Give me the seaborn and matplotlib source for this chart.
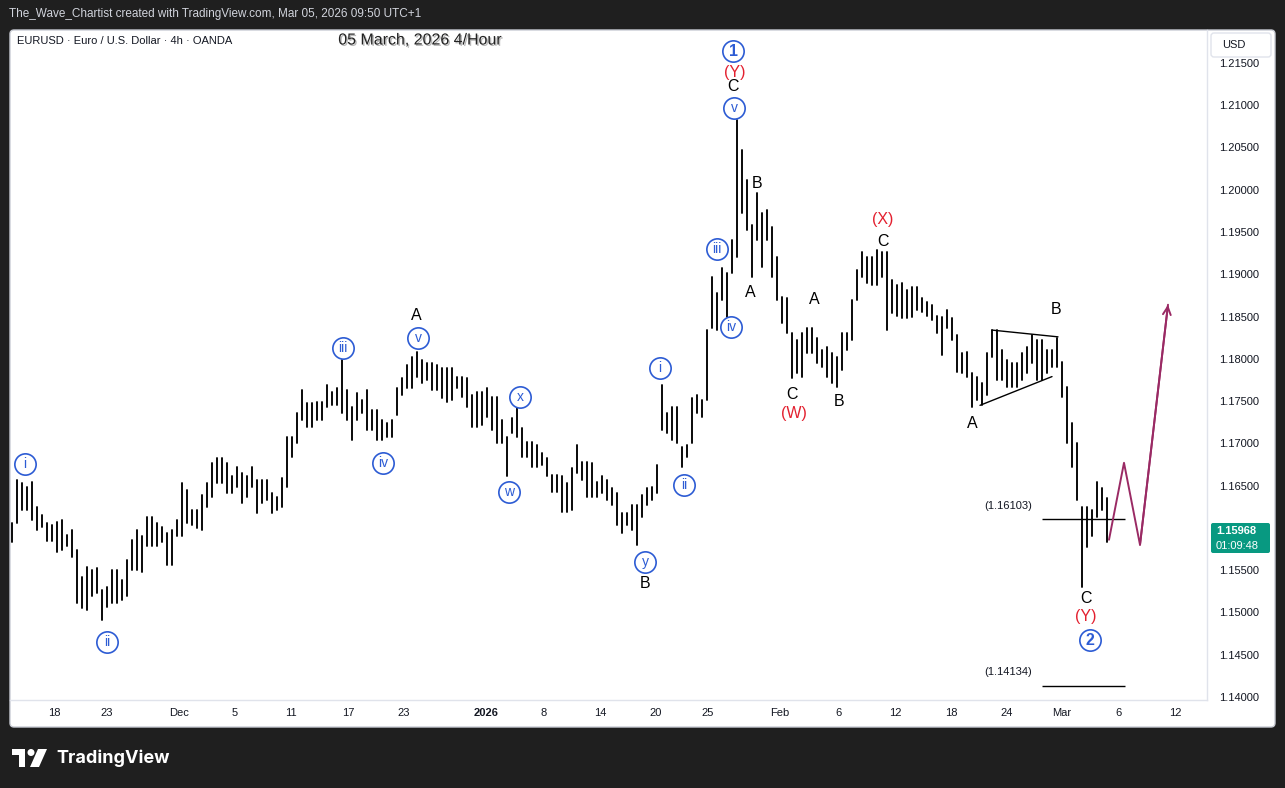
import matplotlib
matplotlib.use("Agg")
import matplotlib.pyplot as plt
import matplotlib.patheffects as pe
from matplotlib.patches import FancyBboxPatch, Rectangle, Circle, Polygon
import numpy as np
import pandas as pd
import seaborn as sns

# EURUSD 4h bars (high / low), one entry every ~8 hours
HIGH = [
    1.1606, 1.1657, 1.1653, 1.1648, 1.1654, 1.1625, 1.1615, 1.1606, 1.1603, 1.1607,
    1.1609, 1.1592, 1.1598, 1.1574, 1.1542, 1.1554, 1.1550, 1.1553, 1.1527, 1.1530,
    1.1550, 1.1550, 1.1538, 1.1562, 1.1586, 1.1598, 1.1590, 1.1613, 1.1613, 1.1606,
    1.1601, 1.1594, 1.1598, 1.1609, 1.1653, 1.1645, 1.1621, 1.1621, 1.1639, 1.1653,
    1.1677, 1.1683, 1.1683, 1.1677, 1.1661, 1.1672, 1.1665, 1.1661, 1.1672, 1.1657,
    1.1657, 1.1657, 1.1641, 1.1636, 1.1659, 1.1707, 1.1707, 1.1736, 1.1763, 1.1748,
    1.1748, 1.1749, 1.1749, 1.1769, 1.1761, 1.1766, 1.1799, 1.1763, 1.1743, 1.1760,
    1.1751, 1.1763, 1.1740, 1.1740, 1.1728, 1.1724, 1.1728, 1.1766, 1.1777, 1.1793,
    1.1802, 1.1808, 1.1799, 1.1795, 1.1795, 1.1793, 1.1789, 1.1789, 1.1789, 1.1779,
    1.1779, 1.1777, 1.1757, 1.1761, 1.1761, 1.1766, 1.1755, 1.1755, 1.1728, 1.1707,
    1.1730, 1.1743, 1.1718, 1.1702, 1.1702, 1.1698, 1.1689, 1.1683, 1.1663, 1.1663,
    1.1661, 1.1653, 1.1671, 1.1698, 1.1678, 1.1678, 1.1677, 1.1654, 1.1661, 1.1657,
    1.1647, 1.1641, 1.1618, 1.1618, 1.1627, 1.1627, 1.1639, 1.1647, 1.1648, 1.1674,
    1.1769, 1.1736, 1.1743, 1.1743, 1.1696, 1.1698, 1.1754, 1.1757, 1.1751, 1.1834,
    1.1897, 1.1878, 1.1907, 1.1902, 1.1941, 1.2083, 1.2047, 1.2012, 1.1958, 1.1996,
    1.1973, 1.1976, 1.1956, 1.1920, 1.1873, 1.1872, 1.1830, 1.1822, 1.1830, 1.1837,
    1.1837, 1.1825, 1.1810, 1.1814, 1.1807, 1.1802, 1.1830, 1.1830, 1.1870, 1.1905,
    1.1926, 1.1920, 1.1920, 1.1929, 1.1926, 1.1926, 1.1893, 1.1887, 1.1890, 1.1881,
    1.1885, 1.1885, 1.1872, 1.1867, 1.1864, 1.1851, 1.1849, 1.1858, 1.1848, 1.1828,
    1.1807, 1.1808, 1.1783, 1.1779, 1.1771, 1.1807, 1.1834, 1.1834, 1.1810, 1.1799,
    1.1795, 1.1795, 1.1807, 1.1814, 1.1828, 1.1822, 1.1822, 1.1810, 1.1810, 1.1825,
    1.1796, 1.1767, 1.1724, 1.1700, 1.1625, 1.1625, 1.1621, 1.1654, 1.1647, 1.1635,
]
LOW = [
    1.1583, 1.1606, 1.1621, 1.1621, 1.1609, 1.1598, 1.1601, 1.1584, 1.1584, 1.1572,
    1.1574, 1.1578, 1.1566, 1.1511, 1.1505, 1.1503, 1.1519, 1.1523, 1.1491, 1.1506,
    1.1511, 1.1511, 1.1515, 1.1519, 1.1550, 1.1550, 1.1548, 1.1578, 1.1578, 1.1578,
    1.1583, 1.1556, 1.1556, 1.1590, 1.1590, 1.1606, 1.1603, 1.1600, 1.1598, 1.1625,
    1.1636, 1.1653, 1.1653, 1.1641, 1.1641, 1.1648, 1.1629, 1.1636, 1.1648, 1.1618,
    1.1629, 1.1633, 1.1618, 1.1621, 1.1625, 1.1648, 1.1684, 1.1700, 1.1728, 1.1719,
    1.1719, 1.1728, 1.1728, 1.1743, 1.1745, 1.1745, 1.1736, 1.1728, 1.1704, 1.1728,
    1.1736, 1.1716, 1.1716, 1.1704, 1.1704, 1.1707, 1.1707, 1.1733, 1.1757, 1.1766,
    1.1766, 1.1779, 1.1771, 1.1775, 1.1763, 1.1763, 1.1754, 1.1749, 1.1751, 1.1766,
    1.1755, 1.1743, 1.1719, 1.1719, 1.1722, 1.1731, 1.1716, 1.1700, 1.1700, 1.1661,
    1.1712, 1.1707, 1.1684, 1.1684, 1.1672, 1.1672, 1.1674, 1.1661, 1.1642, 1.1642,
    1.1619, 1.1619, 1.1621, 1.1665, 1.1657, 1.1636, 1.1636, 1.1636, 1.1641, 1.1633,
    1.1627, 1.1603, 1.1594, 1.1603, 1.1598, 1.1580, 1.1613, 1.1627, 1.1633, 1.1641,
    1.1716, 1.1712, 1.1704, 1.1700, 1.1672, 1.1684, 1.1700, 1.1736, 1.1731, 1.1751,
    1.1837, 1.1834, 1.1870, 1.1849, 1.1902, 1.1920, 1.1973, 1.1952, 1.1897, 1.1941,
    1.1909, 1.1941, 1.1897, 1.1870, 1.1842, 1.1830, 1.1777, 1.1783, 1.1779, 1.1807,
    1.1807, 1.1795, 1.1790, 1.1779, 1.1771, 1.1767, 1.1787, 1.1810, 1.1822, 1.1870,
    1.1897, 1.1890, 1.1887, 1.1887, 1.1897, 1.1834, 1.1854, 1.1851, 1.1848, 1.1848,
    1.1849, 1.1858, 1.1855, 1.1851, 1.1846, 1.1830, 1.1805, 1.1837, 1.1822, 1.1785,
    1.1783, 1.1779, 1.1743, 1.1751, 1.1745, 1.1757, 1.1802, 1.1775, 1.1775, 1.1767,
    1.1767, 1.1767, 1.1775, 1.1783, 1.1795, 1.1775, 1.1775, 1.1783, 1.1790, 1.1790,
    1.1755, 1.1700, 1.1672, 1.1633, 1.1530, 1.1577, 1.1590, 1.1613, 1.1621, 1.1583,
]
LAST_PRICE = "1.15968"
COUNTDOWN = "01:09:48"

PRICE_TICKS = [1.140, 1.145, 1.150, 1.155, 1.160, 1.165, 1.170, 1.175,
               1.180, 1.185, 1.190, 1.195, 1.200, 1.205, 1.210, 1.215]
HIDDEN_TICK = 1.160  # sits under the last-price tag
DATE_LABELS = ["18", "23", "Dec", "5", "11", "17", "23", "2026", "8", "14",
               "20", "25", "Feb", "6", "12", "18", "24", "Mar", "6", "12"]
DATE_POS = [8.4, 19.0, 33.4, 44.6, 55.8, 67.2, 78.4, 94.8, 106.4, 117.6,
            128.8, 139.2, 153.6, 165.2, 176.6, 187.8, 199.0, 210.0, 221.4, 232.6]

# Elliott wave labels
CIRCLE_LABELS = ["i", "ii", "iii", "iv", "v", "w", "x", "y",
                 "i", "ii", "iii", "iv", "v", "1", "2"]
CIRCLE_X = [2.6, 19.0, 66.2, 74.2, 81.2, 99.4, 101.6, 126.6,
            129.6, 134.4, 141.0, 143.8, 144.4, 144.2, 215.6]
CIRCLE_Y = [1.1675, 1.1465, 1.1813, 1.1677, 1.1825, 1.1642, 1.1755, 1.1560,
            1.1789, 1.1651, 1.1930, 1.1838, 1.2097, 1.2164, 1.1467]
ABC_LABELS = ["A", "B", "C", "B", "A", "C", "A", "B", "C", "A", "B", "C"]
ABC_X = [80.8, 126.6, 144.2, 149.0, 147.6, 156.0, 160.4, 165.4, 174.2, 192.0, 208.8, 214.8]
ABC_Y = [1.1851, 1.1534, 1.2122, 1.2008, 1.1878, 1.1758, 1.1870, 1.1750,
         1.1939, 1.1724, 1.1858, 1.1517]
RED_LABELS = ["(Y)", "(W)", "(X)", "(Y)"]
RED_X = [144.6, 156.4, 174.2, 214.8]
RED_Y = [1.2139, 1.1735, 1.1965, 1.1495]

FIB_LEVELS = [1.16103, 1.14134]
FIB_X = [206.0, 222.6]

TRI_UPPER_X = [196.0, 209.2]
TRI_UPPER_Y = [1.1834, 1.1826]
TRI_LOWER_X = [193.6, 208.0]
TRI_LOWER_Y = [1.1745, 1.1779]

PROJ_X = [219.4, 222.4, 225.6, 231.2]
PROJ_Y = [1.1586, 1.1677, 1.1580, 1.1864]

W, H = 1285, 788
BG = "#1f1f1f"
BLUE = "#2d5cd4"
RED = "#e3202f"
PROJ_COLOR = "#9a2a64"
TEXT = "#131722"
LINE = "#e0e3eb"

sns.set_style("white")
plt.rcParams["font.family"] = ["Liberation Sans", "DejaVu Sans"]

fig = plt.figure(figsize=(W / 100, H / 100), dpi=100, facecolor=BG)

# panel background, pixel coordinates
back = fig.add_axes([0, 0, 1, 1], zorder=0)
back.set_xlim(0, W)
back.set_ylim(H, 0)
back.axis("off")
back.add_patch(FancyBboxPatch((10, 30), 1265, 697, boxstyle="round,pad=0,rounding_size=4",
                              fc="white", ec="#c9ccd4", lw=1))

ax = fig.add_axes([10 / W, 1 - 700 / H, 1197 / W, 670 / H], zorder=1)
ax.set_facecolor("none")

# bars
idx = np.arange(len(HIGH))
bars = pd.DataFrame({
    "bar": np.repeat(idx, 2),
    "price": np.column_stack([LOW, HIGH]).ravel(),
})
sns.lineplot(data=bars, x="bar", y="price", units="bar", estimator=None,
             color="black", linewidth=1.35, ax=ax)

# triangle and fib lines
ax.plot(TRI_UPPER_X, TRI_UPPER_Y, color="black", lw=1)
ax.plot(TRI_LOWER_X, TRI_LOWER_Y, color="black", lw=1)
ax.hlines(FIB_LEVELS, FIB_X[0], FIB_X[1], color="black", lw=1)
for lvl in FIB_LEVELS:
    ax.text(199.2, lvl + 0.00157, f"({lvl:.5f})", ha="center", va="center",
            fontsize=8, color=TEXT)

# projected path
sns.lineplot(x=PROJ_X, y=PROJ_Y, sort=False, color=PROJ_COLOR, linewidth=1.4, ax=ax)
ax.annotate("", xy=(PROJ_X[-1], PROJ_Y[-1]), xytext=(PROJ_X[-2], PROJ_Y[-2]),
            arrowprops=dict(arrowstyle="->", color=PROJ_COLOR, lw=1.4,
                            mutation_scale=14, shrinkA=0, shrinkB=0))

# wave labels
sns.scatterplot(x=CIRCLE_X, y=CIRCLE_Y, s=235, color="white", edgecolor=BLUE,
                linewidth=1.2, ax=ax, zorder=6)
for lab, x, y in zip(CIRCLE_LABELS, CIRCLE_X, CIRCLE_Y):
    big = lab.isdigit()
    ax.text(x, y, lab, ha="center", va="center", color=BLUE,
            fontsize=11.5 if big else 10, fontweight="bold" if big else "normal", zorder=7)
for lab, x, y in zip(ABC_LABELS, ABC_X, ABC_Y):
    ax.text(x, y, lab, ha="center", va="center", color="black", fontsize=11.5, zorder=7)
for lab, x, y in zip(RED_LABELS, RED_X, RED_Y):
    ax.text(x, y, lab, ha="center", va="center", color=RED, fontsize=11.5, zorder=7)

ax.set_xlim(-0.4, 239)
ax.set_ylim(1.13964, 1.21890)
ax.set_xticks(DATE_POS)
ax.set_xticklabels(DATE_LABELS)
ax.set_yticks(PRICE_TICKS)
ax.set_yticklabels(["" if abs(p - HIDDEN_TICK) < 1e-9 else f"{p:.5f}" for p in PRICE_TICKS])
ax.yaxis.tick_right()
ax.tick_params(axis="y", length=0, pad=9, labelsize=8, labelcolor=TEXT)
ax.tick_params(axis="x", length=0, pad=6, labelsize=8, labelcolor=TEXT)
for t in ax.get_xticklabels():
    if t.get_text() == "2026":
        t.set_fontweight("bold")
ax.set_xlabel("")
ax.set_ylabel("")
ax.grid(False)
for side in ["top", "left"]:
    ax.spines[side].set_visible(False)
for side in ["right", "bottom"]:
    ax.spines[side].set_color(LINE)
    ax.spines[side].set_linewidth(1)

# chrome on top: header, legend, title, price tag, logo
top = fig.add_axes([0, 0, 1, 1], zorder=3)
top.set_xlim(0, W)
top.set_ylim(H, 0)
top.axis("off")
top.patch.set_alpha(0)

top.text(9, 14, "The_Wave_Chartist created with TradingView.com, Mar 05, 2026 09:50 UTC+1",
         fontsize=8.5, color="#d1d4dc", va="center", ha="left")
top.text(17, 41, "EURUSD · Euro / U.S. Dollar · 4h · OANDA",
         fontsize=8, color=TEXT, va="center", ha="left")
top.text(420, 40, "05 March, 2026 4/Hour", fontsize=11.5, color="#222222",
         va="center", ha="center",
         path_effects=[pe.withSimplePatchShadow(offset=(1, -1), shadow_rgbFace="#999999", alpha=0.7)])

top.add_patch(FancyBboxPatch((1211, 33), 60, 24, boxstyle="round,pad=0,rounding_size=3",
                             fc="white", ec=LINE, lw=1))
top.text(1222, 45, "USD", fontsize=8, color=TEXT, va="center", ha="left")

top.add_patch(FancyBboxPatch((1211, 523), 59, 30, boxstyle="round,pad=0,rounding_size=2",
                             fc="#089981", ec="none"))
top.text(1216, 531, LAST_PRICE, fontsize=8, color="white", fontweight="bold", va="center")
top.text(1216, 546, COUNTDOWN, fontsize=8, color="white", va="center")

# TradingView logo
top.add_patch(Rectangle((12, 749), 13, 6, fc="white", ec="none"))
top.add_patch(Rectangle((19, 749), 6, 18, fc="white", ec="none"))
top.add_patch(Circle((31, 752.5), 3.5, fc="white", ec="none"))
top.add_patch(Polygon([(38, 749), (47, 749), (39, 767), (30, 767)], closed=True, fc="white", ec="none"))
top.text(56, 758, "TradingView", fontsize=13, color="white", fontweight="bold",
         family=["Inter", "DejaVu Sans"], va="center", ha="left")

fig.savefig("out.png", dpi=100, facecolor=fig.get_facecolor())
